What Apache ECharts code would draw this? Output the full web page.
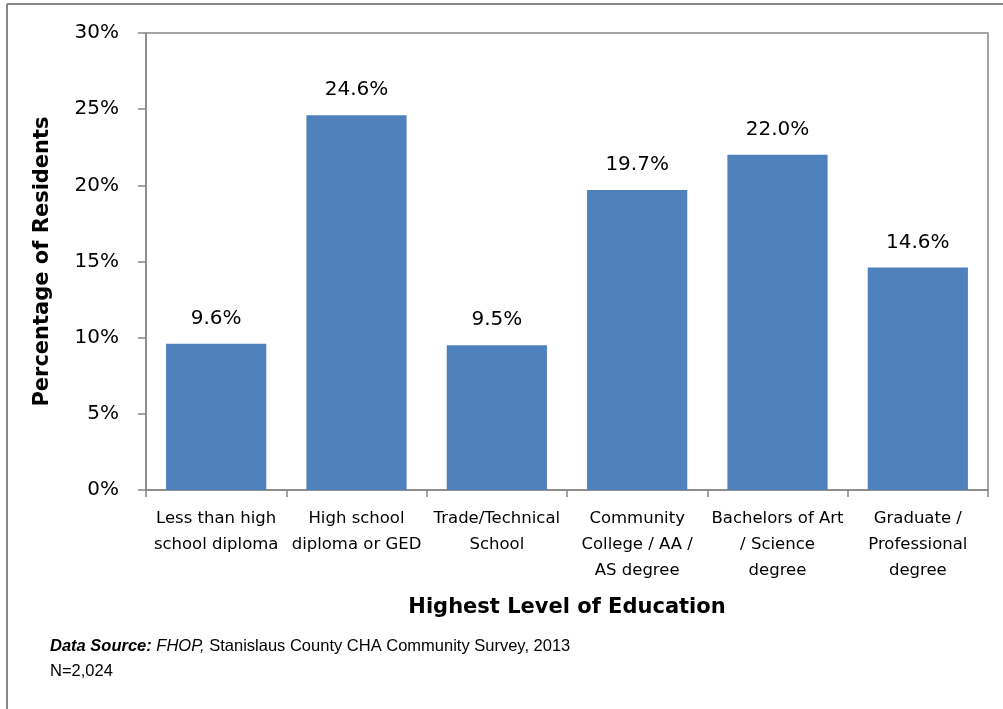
<!DOCTYPE html>
<html>
<head>
<meta charset="utf-8">
<script src="https://cdn.jsdelivr.net/npm/echarts@6/dist/echarts.min.js"></script>
<style>
html,body{margin:0;padding:0;background:#fff;}
#chart{width:1003px;height:709px;}
</style>
</head>
<body>
<div id="chart"></div>
<script>
const categories = [
  "Less than high\nschool diploma",
  "High school\ndiploma or GED",
  "Trade/Technical\nSchool",
  "Community\nCollege / AA /\nAS degree",
  "Bachelors of Art\n/ Science\ndegree",
  "Graduate /\nProfessional\ndegree"
];
const values = [9.6, 24.6, 9.5, 19.7, 22.0, 14.6];
const yTicks = { min: 0, max: 30, interval: 5 };
const xAxisTitle = "Highest Level of Education";
const yAxisTitle = "Percentage of Residents";
const FONT = "DejaVu Sans";
const FOOT_FONT = "Liberation Sans";

const chart = echarts.init(document.getElementById('chart'));
chart.setOption({
  animation: false,
  backgroundColor: '#ffffff',
  grid: {
    left: 146, right: 15, top: 33, bottom: 219,
    show: true, borderColor: '#878787', borderWidth: 1.5, backgroundColor: 'transparent'
  },
  xAxis: {
    type: 'category',
    data: categories,
    axisLine: { lineStyle: { color: '#878787', width: 1.5 } },
    axisTick: { show: true, length: 7, lineStyle: { color: '#878787', width: 1.5 } },
    axisLabel: {
      interval: 0, color: '#000', fontFamily: FONT, fontSize: 16.5,
      lineHeight: 26, margin: 16
    },
    name: xAxisTitle,
    nameLocation: 'middle',
    nameGap: 107,
    nameTextStyle: { color: '#000', fontFamily: FONT, fontSize: 21, fontWeight: 'bold' }
  },
  yAxis: {
    type: 'value',
    min: yTicks.min, max: yTicks.max, interval: yTicks.interval,
    axisLine: { show: true, lineStyle: { color: '#878787', width: 1.5 } },
    axisTick: { show: true, length: 8, lineStyle: { color: '#878787', width: 1.5 } },
    splitLine: { show: false },
    axisLabel: {
      color: '#000', fontFamily: FONT, fontSize: 20, margin: 27,
      formatter: v => v + '%'
    },
    name: yAxisTitle,
    nameLocation: 'middle',
    nameGap: 93,
    nameTextStyle: { color: '#000', fontFamily: FONT, fontSize: 21, fontWeight: 'bold' }
  },
  series: [{
    type: 'bar',
    data: values,
    barCategoryGap: '28.6%',
    itemStyle: { color: '#4F81BD' },
    label: {
      show: true, position: 'top', distance: 15,
      color: '#000', fontFamily: FONT, fontSize: 20,
      formatter: p => p.value.toFixed(1) + '%'
    }
  }],
  graphic: [
    { type: 'line', shape: { x1: 7, y1: 4, x2: 1003, y2: 4 }, style: { stroke: '#878787', lineWidth: 2 } },
    { type: 'line', shape: { x1: 7, y1: 4, x2: 7, y2: 709 }, style: { stroke: '#878787', lineWidth: 2 } },
    {
      type: 'text', left: 50, top: 638,
      style: {
        text: '{bi|Data Source:} {i|FHOP,} Stanislaus County CHA Community Survey, 2013',
        font: '16.5px "Liberation Sans"', fill: '#000',
        rich: {
          bi: { fontFamily: FOOT_FONT, fontSize: 16.5, fontWeight: 'bold', fontStyle: 'italic', fill: '#000' },
          i: { fontFamily: FOOT_FONT, fontSize: 16.5, fontStyle: 'italic', fill: '#000' }
        }
      }
    },
    {
      type: 'text', left: 50, top: 663,
      style: { text: 'N=2,024', font: '16.5px "Liberation Sans"', fill: '#000' }
    }
  ]
});
</script>
</body>
</html>
